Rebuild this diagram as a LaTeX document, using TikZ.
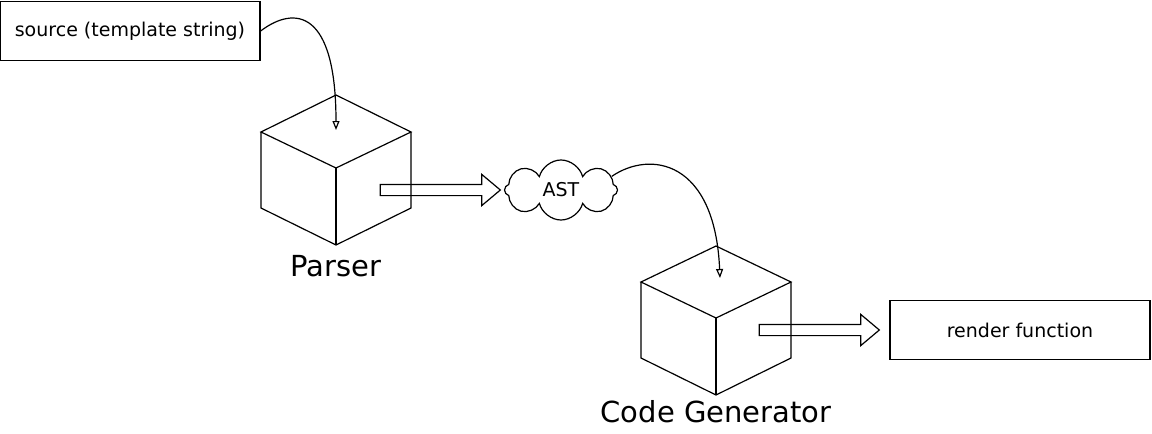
\documentclass[tikz,border=0pt]{standalone}
\usepackage{fontspec}
\setmainfont{DejaVu Sans}
\usetikzlibrary{arrows.meta,shapes.symbols,shapes.arrows}
\begin{document}
\begin{tikzpicture}[x=1pt,y=1pt,line width=1.2pt]
\tikzstyle{every node}+=[inner sep=0pt]
\tikzstyle{textbox}=[draw, minimum width=260pt, minimum height=59pt, font=\fontsize{19}{22}\selectfont]
\tikzstyle{bigarrow}=[draw, single arrow, minimum height=120pt, single arrow head extend=10pt, single arrow tip angle=80, inner sep=5pt]
\tikzstyle{flow}=[-{Triangle[open,length=9pt,width=7pt]}]
\tikzstyle{caption}=[font=\fontsize{29}{33}\selectfont]
\useasboundingbox (0,0) rectangle (1152,-434);
% input
\node[textbox] (source) at (130,-31) {source (template string)};
% parser cube
\draw (336,-95) -- (261,-132) -- (336,-168) -- (411,-132) -- cycle;
\draw (261,-132) -- (261,-208) -- (336,-245) -- (411,-208) -- (411,-132);
\draw (336,-168) -- (336,-245);
\coordinate (parsertop) at (336,-130);
\node[caption] (parser) at (336,-266) {Parser};
% ast
\node[bigarrow] (parsearrow) at (437,-190) {};
\node[draw, cloud, cloud puffs=8, aspect=1.9, minimum width=113pt, minimum height=60pt, font=\fontsize{19}{22}\selectfont] (ast) at (561,-190) {AST};
% code generator cube
\draw (716,-246) -- (641,-282) -- (716,-318) -- (791,-282) -- cycle;
\draw (641,-282) -- (641,-358) -- (716,-395) -- (791,-358) -- (791,-282);
\draw (716,-318) -- (716,-395);
\coordinate (gentop) at (720,-278);
\node[caption] (codegen) at (716,-412) {Code Generator};
% output
\node[bigarrow] (genarrow) at (816,-330) {};
\node[textbox] (render) at (1020,-330) {render function};
\draw[flow] (source.east) .. controls (295,-5) and (336,-10) .. (parsertop);
\draw[flow] (ast.15) .. controls (650,-150) and (715,-160) .. (gentop);
\end{tikzpicture}
\end{document}
